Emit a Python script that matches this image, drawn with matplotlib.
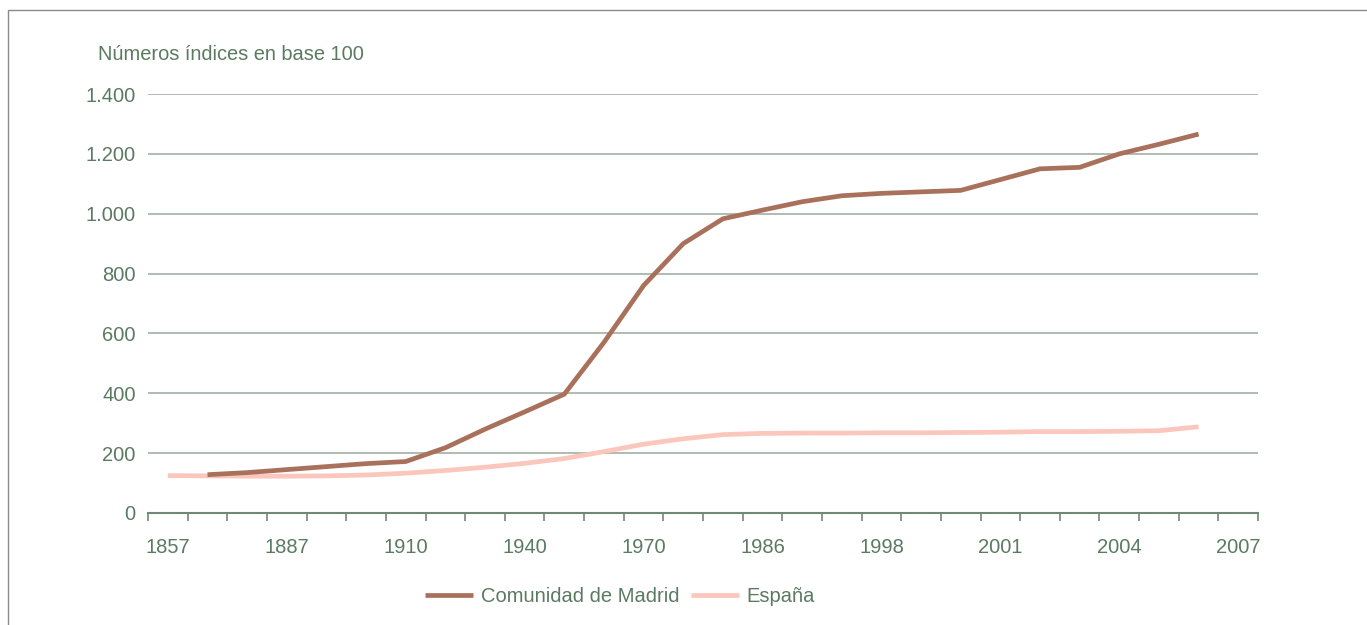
import matplotlib.pyplot as plt
import matplotlib.patches as patches
import numpy as np

plt.rcParams['font.family'] = ['Liberation Sans', 'DejaVu Sans']

years = ['1857', '1860', '1877', '1887', '1897', '1900', '1910', '1920', '1930', '1940',
         '1950', '1960', '1970', '1975', '1981', '1986', '1991', '1996', '1998', '1999',
         '2000', '2001', '2002', '2003', '2004', '2005', '2006', '2007']
shown_labels = ['1857', '1887', '1910', '1940', '1970', '1986', '1998', '2001', '2004', '2007']

madrid = [np.nan, 128, 135, 145, 155, 165, 172, 218, 280, 338,
          397, 570, 760, 900, 983, 1012, 1040, 1060, 1068, 1073,
          1078, 1114, 1150, 1155, 1200, 1232, 1266, np.nan]
espana = [125, 124, 123, 123, 124, 127, 133, 142, 153, 166,
          182, 205, 230, 248, 262, 266, 267, 267, 268, 268,
          269, 270, 272, 272, 273, 275, 288, np.nan]

yticks = [0, 200, 400, 600, 800, 1000, 1200, 1400]
ytick_labels = ['0', '200', '400', '600', '800', '1.000', '1.200', '1.400']

txt = '#5b7a62'
grid = '#9fb0a4'

fig = plt.figure(figsize=(13.67, 6.25), dpi=100)
ax = fig.add_axes([0.1083, 0.1792, 0.8120, 0.6704])

x = np.arange(len(years))
ax.plot(x, espana, color='#fbc6bb', lw=3.4, solid_capstyle='butt', label='España', zorder=3)
ax.plot(x, madrid, color='#a9715c', lw=3.4, solid_capstyle='butt', label='Comunidad de Madrid', zorder=4)

ax.set_xlim(-0.5, len(years) - 0.5)
ax.set_ylim(0, 1400)
ax.set_yticks(yticks)
ax.set_yticklabels(ytick_labels)
ax.yaxis.grid(True, color=grid, lw=1.2)
ax.set_axisbelow(True)
ax.tick_params(axis='y', length=0, pad=9, labelsize=14.5, labelcolor=txt)

# ticks on category boundaries, labels on every third category
ax.set_xticks(np.arange(-0.5, len(years), 1))
ax.set_xticklabels([])
ax.tick_params(axis='x', which='major', direction='out', length=6, width=1.2, color='#6f8a74')
lab_pos = [years.index(y) for y in shown_labels]
ax.set_xticks(lab_pos, minor=True)
ax.set_xticklabels(shown_labels, minor=True)
ax.tick_params(axis='x', which='minor', length=0, pad=18, labelsize=14.5, labelcolor=txt)

for s in ['top', 'right', 'left']:
    ax.spines[s].set_visible(False)
ax.spines['bottom'].set_color('#6f8a74')
ax.spines['bottom'].set_linewidth(1.5)

fig.text(98 / 1367, 1 - 54 / 625, 'Números índices en base 100', fontsize=14.4, color=txt,
         ha='left', va='center')

h, l = ax.get_legend_handles_labels()
fig.legend(h[::-1], l[::-1], loc='center', bbox_to_anchor=(620 / 1367, 1 - 597 / 625), ncol=2,
           frameon=False, fontsize=14.5, labelcolor=txt, handlelength=2.4, handletextpad=0.35,
           columnspacing=0.6)

fig.patches.append(patches.Rectangle((8 / 1367, -0.01), 1360 / 1367, 1 - 10 / 625 + 0.01,
                                     transform=fig.transFigure, fill=False,
                                     edgecolor='#8a8a8a', lw=1))

fig.savefig('out.png', dpi=100)
